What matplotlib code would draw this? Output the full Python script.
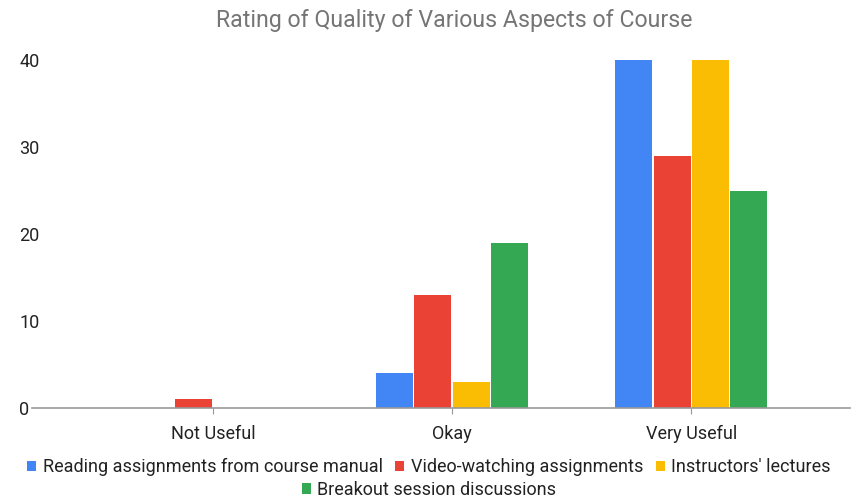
import numpy as np
import matplotlib
matplotlib.use("Agg")
import matplotlib.pyplot as plt

plt.rcParams["font.family"] = ["Roboto", "DejaVu Sans"]

categories = ["Not Useful", "Okay", "Very Useful"]
series = [
    "Reading assignments from course manual",
    "Video-watching assignments",
    "Instructors' lectures",
    "Breakout session discussions",
]
reading = [0, 4, 40]
video = [1, 13, 29]
lectures = [0, 3, 40]
breakout = [0, 19, 25]
colors = ["#4285F4", "#EA4335", "#FBBC04", "#34A853"]

fig = plt.figure(figsize=(8.58, 4.99), dpi=100)
ax = fig.add_axes([0.037, 0.182, 0.954, 0.702])

x = np.arange(len(categories))
w = 0.16
handles = []
for i, (vals, c) in enumerate(zip([reading, video, lectures, breakout], colors)):
    h = ax.bar(x + (i - 1.5) * w, vals, w * 0.97, color=c, label=series[i])
    handles.append(h)

ax.set_xlim(-0.757, 2.665)
ax.set_ylim(0, 40.3)
ax.set_yticks([0, 10, 20, 30, 40])
ax.set_xticks(x)
ax.set_xticklabels(categories, fontsize=13, color="#222222")
for s in ["top", "right", "left"]:
    ax.spines[s].set_visible(False)
ax.spines["bottom"].set_color("#999999")
ax.spines["bottom"].set_linewidth(1.2)
ax.tick_params(axis="x", length=4, color="#999999", pad=8)
ax.tick_params(axis="y", length=0, pad=9, labelsize=13, labelcolor="#222222")
for t in ax.get_yticklabels():
    t.set_horizontalalignment("left")

fig.suptitle("Rating of Quality of Various Aspects of Course", x=0.529, y=0.982,
             fontsize=16.7, color="#757575")

leg1 = fig.legend(handles[:3], series[:3], loc="center", bbox_to_anchor=(0.5, 0.064),
                  ncol=3, frameon=False, fontsize=13, handlelength=0.5,
                  handleheight=0.5, handletextpad=0.35, columnspacing=0.7,
                  labelcolor="#222222")
leg2 = fig.legend(handles[3:], series[3:], loc="center", bbox_to_anchor=(0.5, 0.018),
                  ncol=1, frameon=False, fontsize=13, handlelength=0.5,
                  handleheight=0.5, handletextpad=0.35, labelcolor="#222222")

fig.savefig("out.png", dpi=100)
